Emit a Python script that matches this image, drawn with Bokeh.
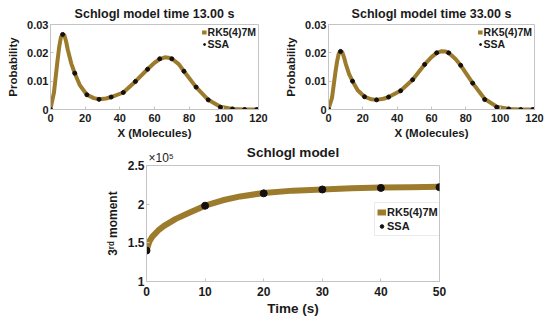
from bokeh.plotting import figure
from bokeh.layouts import column, row
from bokeh.models import Spacer, FixedTicker, CustomJSTickFormatter, Range1d, Title
from bokeh.embed import file_html
from bokeh.resources import INLINE

# ---------------- data ----------------
# Schlogl model, distribution at t = 13 s
curve_x = [0, 2, 4, 5, 6, 7, 8, 9, 10, 12, 14, 17, 21, 25, 28, 32, 35, 42, 49, 56,
           60, 63, 66, 68, 70, 74, 77, 84, 91, 98, 105, 112, 120]
rk_13 = [0.0003, 0.006, 0.017, 0.022, 0.0255, 0.0266, 0.0262, 0.024, 0.021, 0.0162,
         0.0128, 0.0085, 0.0052, 0.0040, 0.0036, 0.0039, 0.0044, 0.0060, 0.0099, 0.0142,
         0.0165, 0.0178, 0.0184, 0.0183, 0.0179, 0.0160, 0.0135, 0.0079, 0.0034, 0.0010,
         0.0002, 0.00003, 0.0]
ssa_x = [0, 7, 14, 21, 28, 35, 42, 49, 56, 63, 70, 77, 84, 91, 98, 105, 112, 119]
ssa_13 = [0.0, 0.0265, 0.0128, 0.0052, 0.0036, 0.0044, 0.0060, 0.0099, 0.0142, 0.0179,
          0.0179, 0.0135, 0.0079, 0.0034, 0.0008, 0.0002, 0.0, 0.0]

# distribution at t = 33 s
rk_33 = [0.0002, 0.004, 0.013, 0.017, 0.0198, 0.0206, 0.0202, 0.0185, 0.0162, 0.0125,
         0.0100, 0.0068, 0.0045, 0.0036, 0.0034, 0.0038, 0.0044, 0.0066, 0.0105, 0.0159,
         0.0185, 0.0200, 0.0206, 0.0205, 0.0200, 0.0178, 0.0156, 0.0093, 0.0037, 0.0010,
         0.0002, 0.00003, 0.0]
ssa_33 = [0.0, 0.0205, 0.0100, 0.0045, 0.0034, 0.0044, 0.0066, 0.0105, 0.0159, 0.0200,
          0.0200, 0.0156, 0.0093, 0.0035, 0.0008, 0.0002, 0.0, 0.0]

# third moment (x 1e5) over time
t_curve = [0, 0.5, 1, 2, 3, 5, 7, 10, 13, 16, 20, 25, 30, 35, 40, 45, 50]
m3_curve = [1.40, 1.52, 1.58, 1.66, 1.72, 1.81, 1.88, 1.98, 2.05, 2.10, 2.145, 2.175,
            2.19, 2.205, 2.215, 2.22, 2.225]
t_ssa = [0, 10, 20, 30, 40, 50]
m3_ssa = [1.40, 1.98, 2.14, 2.19, 2.21, 2.22]

prob_xticks = [0, 20, 40, 60, 80, 100, 120]
prob_yticks = [0, 0.01, 0.02, 0.03]
time_xticks = [0, 10, 20, 30, 40, 50]
m3_yticks = [1, 1.5, 2, 2.5]

# ---------------- style ----------------
FONT = "Liberation Sans"
LINE = "#9c7c2c"
DOT = "#141010"
AX = "#c4c4c4"
TXT = "#1a1a1a"

fmt = CustomJSTickFormatter(code="return String(Math.round(tick*1000)/1000);")


def style(p, xticks, yticks, xlabel, ylabel, tick_fs, xlab_fs, ylab_fs):
    p.xgrid.visible = False
    p.ygrid.visible = False
    p.outline_line_color = AX
    p.outline_line_width = 1
    p.xaxis.ticker = FixedTicker(ticks=xticks)
    p.yaxis.ticker = FixedTicker(ticks=yticks)
    p.xaxis.formatter = fmt
    p.yaxis.formatter = fmt
    p.xaxis.axis_label = xlabel
    p.yaxis.axis_label = ylabel
    for ax, lab_fs in ((p.xaxis[0], xlab_fs), (p.yaxis[0], ylab_fs)):
        ax.axis_line_color = AX
        ax.major_tick_line_color = AX
        ax.major_tick_in = 3
        ax.major_tick_out = 0
        ax.minor_tick_line_color = None
        ax.major_label_text_font = FONT
        ax.major_label_text_font_style = "bold"
        ax.major_label_text_font_size = tick_fs
        ax.major_label_text_color = TXT
        ax.axis_label_text_font = FONT
        ax.axis_label_text_font_style = "bold"
        ax.axis_label_text_font_size = lab_fs
        ax.axis_label_text_color = TXT
    p.xaxis.major_label_standoff = 4
    p.xaxis.axis_label_standoff = 2
    p.yaxis.major_label_standoff = 2
    p.yaxis.axis_label_standoff = 5


def set_title(p, text, fs, standoff):
    p.title.text = text
    p.title.align = "center"
    p.title.text_font = FONT
    p.title.text_font_style = "bold"
    p.title.text_font_size = fs
    p.title.text_color = TXT
    p.title.standoff = standoff


def prob_plot(rk, ssa, title, left, right, fw):
    p = figure(frame_width=fw, frame_height=85,
               min_border_left=left, min_border_right=right,
               min_border_top=24, min_border_bottom=35,
               x_range=Range1d(0, 120), y_range=Range1d(0, 0.03),
               output_backend="svg", toolbar_location=None)
    style(p, prob_xticks, prob_yticks, "X (Molecules)", "Probability", "11px", "11.5px", "11.5px")
    set_title(p, title, "12.5px", 8)
    p.line(curve_x, rk, line_color=LINE, line_width=4, legend_label="RK5(4)7M")
    p.scatter(ssa_x, ssa, size=4, fill_color=DOT, line_color=DOT, legend_label="SSA")
    lg = p.legend[0]
    lg.location = "top_right"
    lg.margin = 1
    lg.padding = 1
    lg.spacing = 0
    lg.glyph_width = 5
    lg.glyph_height = 12
    lg.label_standoff = 1
    lg.label_text_font = FONT
    lg.label_text_font_style = "bold"
    lg.label_text_font_size = "10.5px"
    lg.label_text_color = TXT
    lg.label_height = 12
    lg.border_line_alpha = 0
    lg.background_fill_alpha = 1
    return p


p1 = prob_plot(rk_13, ssa_13, "Schlogl model time 13.00 s", 50, 17, 208)
p2 = prob_plot(rk_33, ssa_33, "Schlogl model time 33.00 s", 53, 16, 206)

p3 = figure(frame_width=293, frame_height=116, min_border_left=46, min_border_right=111,
            min_border_top=21, min_border_bottom=41,
            x_range=Range1d(0, 50), y_range=Range1d(1, 2.5),
            output_backend="svg", toolbar_location=None)
style(p3, time_xticks, m3_yticks, "Time (s)", "3ʳᵈ moment", "12px", "13.5px", "12px")
p3.xaxis.major_label_standoff = 5
set_title(p3, "Schlogl model", "13.5px", -25)
p3.add_layout(Title(text="×10⁵", align="left", text_font=FONT, text_font_style="normal",
                    text_font_size="12px", text_color=TXT, standoff=2, offset=2), "above")
p3.line(t_curve, m3_curve, line_color=LINE, line_width=6, legend_label="RK5(4)7M")
p3.scatter(t_ssa, m3_ssa, size=7, fill_color=DOT, line_color=DOT, legend_label="SSA")
lg3 = p3.legend[0]
lg3.location = (228, 45)
lg3.padding = 2
lg3.spacing = 0
lg3.margin = 0
lg3.glyph_width = 9
lg3.glyph_height = 14
lg3.label_standoff = 1
lg3.label_text_font = FONT
lg3.label_text_font_style = "bold"
lg3.label_text_font_size = "11px"
lg3.label_text_color = TXT
lg3.label_height = 14
lg3.border_line_color = "#d8d8d8"

layout = column(row(p1, p2, spacing=0), row(Spacer(width=100, height=178), p3, spacing=0), spacing=0)

open("out.html", "w").write(file_html(layout, INLINE))
